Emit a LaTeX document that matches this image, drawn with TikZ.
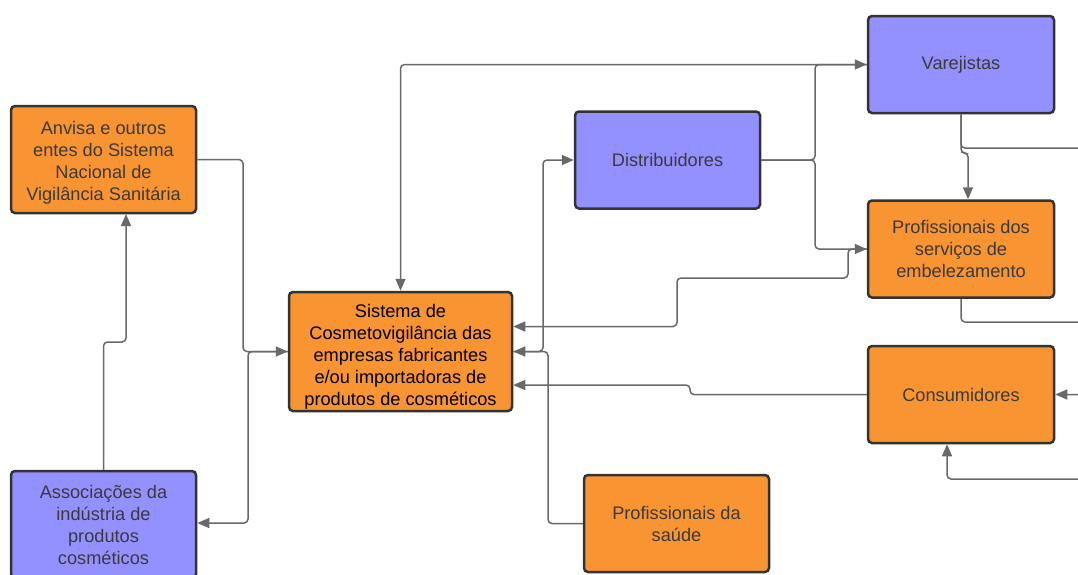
\documentclass[tikz,border=0pt]{standalone}
\usepackage{fontspec}
\setmainfont{Liberation Sans}
\usetikzlibrary{arrows.meta}
\definecolor{orangefill}{RGB}{249,148,50}
\definecolor{bluefill}{RGB}{147,145,255}
\definecolor{boxborder}{RGB}{51,51,51}
\definecolor{linegray}{RGB}{105,105,105}
\definecolor{textgray}{RGB}{58,58,58}
\tikzset{
  box/.style={draw=boxborder, line width=2.5pt, rounded corners=4pt, align=center,
    text=textgray, font=\fontsize{18.2}{22}\selectfont, inner sep=0pt,
    minimum width=185pt, minimum height=97pt},
  obox/.style={box, fill=orangefill},
  bbox/.style={box, fill=bluefill},
  conn/.style={draw=linegray, line width=1.5pt, rounded corners=4pt,
    -{Triangle[length=12pt,width=10pt]}}
}
\begin{document}
\begin{tikzpicture}[x=1pt,y=-1pt]
\useasboundingbox (0,0) rectangle (1078,574);
\fill[white] (0,0) rectangle (1078,574);
\clip (0,0) rectangle (1078,574);
% nodes
\node[obox, minimum height=107pt] (anvisa) at (103.5,159.5) {\rule{0pt}{19pt}Anvisa e outros\\entes do Sistema\\Nacional de\\Vigilância Sanitária};
\node[bbox, minimum height=107pt] (assoc) at (103.5,524.5) {Associações da\\indústria de\\produtos\\cosméticos};
\node[obox, minimum width=223pt, minimum height=119pt, text=black] (sis) at (400.5,351.5) {\rule{0pt}{23pt}Sistema de\\Cosmetovigilância das\\empresas fabricantes\\e/ou importadoras de\\produtos de cosméticos};
\node[bbox] (dist) at (667.5,160) {Distribuidores};
\node[bbox, minimum width=186pt] (vare) at (961,64.5) {Varejistas};
\node[obox, minimum width=186pt] (prof) at (961,249) {Profissionais dos\\serviços de\\embelezamento};
\node[obox, minimum width=186pt] (cons) at (961,394.5) {Consumidores};
\node[obox] (saude) at (676.5,523.5) {Profissionais da\\saúde};
% connectors
\draw[conn] (anvisa.east) -- (243,159.5) |- (sis.west);
\draw[conn] (sis.west) -- (248,351.5) |- ([yshift=1.5pt]assoc.east);
\draw[conn] (assoc.north) -- (103.5,342) -- (126,342) -- (126,214);
\draw[conn] (vare.west) -| (sis.north);
\draw[conn] (dist.east) -- (815,160) |- (vare.west);
\draw[conn] (dist.east) -- (815,160) |- (prof.west);
\draw[conn] (prof.west) -- (848,249) -- (848,278) -- (677,278) -- (677,326.5) -- ([yshift=25pt]sis.east);
\draw[conn] (cons.west) -- (690,394.5) -- (690,385) -- ([yshift=-33.5pt]sis.east);
\draw[conn] (sis.east) -- (543,351.5) |- (dist.west);
\draw[conn] (saude.west) -- (548,523.5) |- (sis.east);
\draw[conn] (vare.south) -- (961,153) -| ([xshift=7pt]prof.north);
\draw[conn] (vare.south) |- (1100,148) |- (cons.east);
\draw[conn] (prof.south) |- (1090,322) |- (947,479) -- ([xshift=-14pt]cons.south);
\end{tikzpicture}
\end{document}
